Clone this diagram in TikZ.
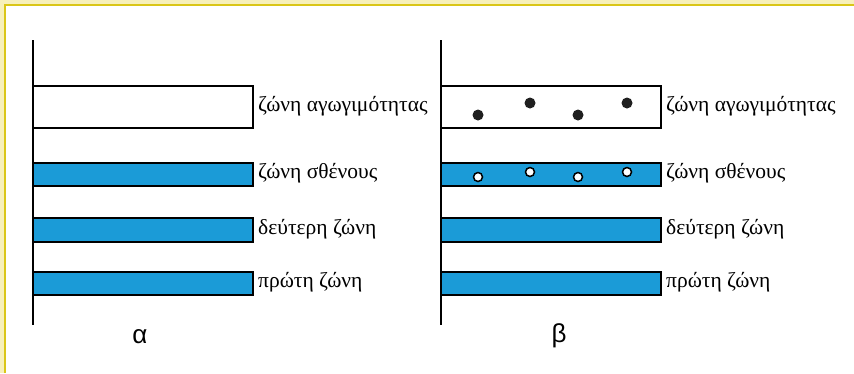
\documentclass[tikz,border=0pt]{standalone}
\usepackage{fontspec}
\setmainfont{Liberation Serif}
\newfontfamily\panelfont{Liberation Sans}
\definecolor{bandblue}{RGB}{27,155,215}
\definecolor{framegold}{RGB}{218,198,24}
\definecolor{framepale}{RGB}{247,240,186}

\begin{document}
\begin{tikzpicture}[x=1pt,y=-1pt,
	band/.style={draw,line width=1.9pt,fill=bandblue},
	emptyband/.style={draw,line width=1.9pt,fill=white},
	zone/.style={anchor=west,inner sep=0pt,font=\fontsize{21.5}{24}\selectfont},
	electron/.style={circle,fill=black!88,inner sep=0pt,minimum size=11pt},
	hole/.style={circle,draw,line width=1.5pt,fill=white,inner sep=0pt,minimum size=9pt}]
	\useasboundingbox (0,0) rectangle (854,373);
	\fill[framepale] (0,0) rectangle (854,373);
	\fill[white] (5,5) rectangle (854,373);
	\draw[framegold,line width=2.5pt] (5,373) -- (5,5) -- (854,5);
	% two panels: alpha left, beta right
	\foreach \x/\p in {33/a,441/b}{
		\draw[emptyband] (\x,86) rectangle ++(220,42);
		\draw[band] (\x,163) rectangle ++(220,23);
		\draw[band] (\x,218) rectangle ++(220,24);
		\draw[band] (\x,272) rectangle ++(220,23);
		\draw[line width=1.9pt] (\x,40) -- (\x,325);
		\node[zone] (cond\p) at (\x+225,106) {ζώνη αγωγιμότητας};
		\node[zone] (val\p) at (\x+225,173) {ζώνη σθένους};
		\node[zone] (second\p) at (\x+225,229) {δεύτερη ζώνη};
		\node[zone] (first\p) at (\x+225,282) {πρώτη ζώνη};
	}
	\node[font=\panelfont\fontsize{26}{28}\selectfont] (tagA) at (140,337) {α};
	\node[font=\panelfont\fontsize{26}{28}\selectfont] (tagB) at (559,336) {β};
	% electrons and holes
	\foreach \i/\x/\dy in {1/478/0,2/530/-1,3/578/0,4/627/-1}{
		\node[electron] (e\i) at (\x,115+12*\dy) {};
		\node[hole] (h\i) at (\x,177+5*\dy) {};
	}
\end{tikzpicture}
\end{document}
